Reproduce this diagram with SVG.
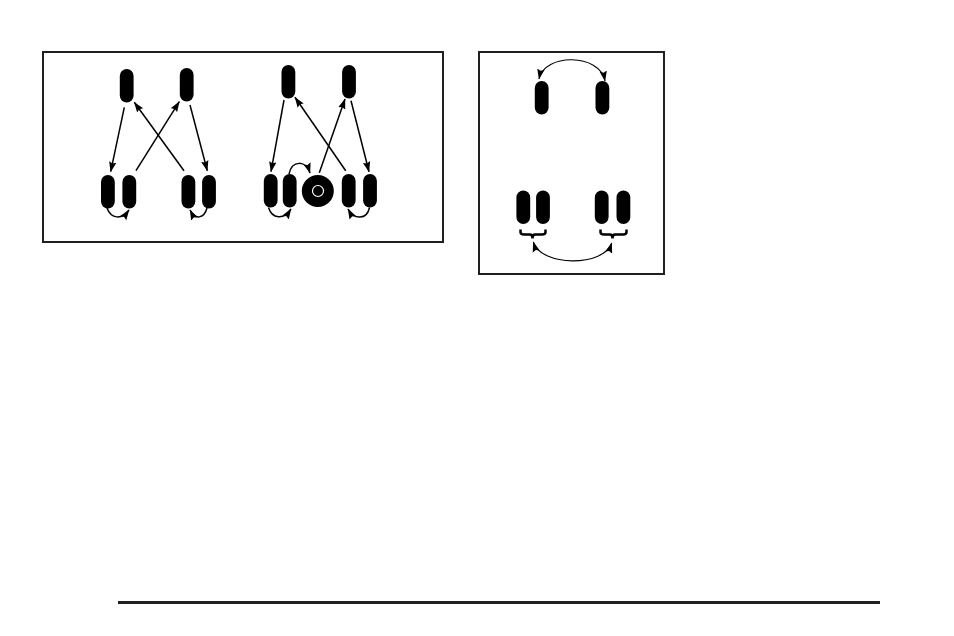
<svg xmlns="http://www.w3.org/2000/svg" width="954" height="636" viewBox="0 0 954 636">
<style>
.box{fill:#fff;stroke:#231f20;stroke-width:2}
.t{fill:#000}
.c{fill:none;stroke:#000;stroke-width:1.500}
.n{fill:none;stroke:#000;stroke-width:1.100}
.b{fill:none;stroke:#000;stroke-width:2.500}
</style>
<defs>
<marker id="a" markerUnits="userSpaceOnUse" markerWidth="12" markerHeight="9" refX="10" refY="4" orient="auto-start-reverse"><path d="M0 0.300L10.500 4L0 7.700L1.500 4Z" fill="#000"/></marker>
<rect id="tire" class="t" width="13.800" height="33.500" rx="6.900"/>
</defs>
<rect width="954" height="636" fill="#fff"/>
<rect id="panel-left" class="box" x="43" y="52" width="400" height="190"/>
<rect id="panel-right" class="box" x="479" y="52" width="185" height="222"/>
<g id="tire-1"><use href="#tire" x="119.800" y="69"/></g>
<g id="tire-2"><use href="#tire" x="179.800" y="68"/></g>
<g id="tire-3"><use href="#tire" x="101" y="175"/></g>
<g id="tire-4"><use href="#tire" x="122.400" y="175"/></g>
<g id="tire-5"><use href="#tire" x="181.500" y="175"/></g>
<g id="tire-6"><use href="#tire" x="202.100" y="175"/></g>
<g id="tire-7"><use href="#tire" x="281.500" y="65"/></g>
<g id="tire-8"><use href="#tire" x="342.100" y="65"/></g>
<g id="tire-9"><use href="#tire" x="263.800" y="174"/></g>
<g id="tire-10"><use href="#tire" x="282.800" y="174"/></g>
<g id="tire-11"><use href="#tire" x="341.800" y="174"/></g>
<g id="tire-12"><use href="#tire" x="363.100" y="174"/></g>
<g id="spare"><circle cx="317.800" cy="191" r="16" fill="#000"/><circle cx="318" cy="191" r="5.500" fill="none" stroke="#fff" stroke-width="1.200"/></g>
<g id="tire-13"><use href="#tire" x="534.800" y="81"/></g>
<g id="tire-14"><use href="#tire" x="595.500" y="81"/></g>
<g id="tire-15"><use href="#tire" x="516.400" y="190.500"/></g>
<g id="tire-16"><use href="#tire" x="536.100" y="190.500"/></g>
<g id="tire-17"><use href="#tire" x="594.800" y="190.500"/></g>
<g id="tire-18"><use href="#tire" x="616.500" y="190.500"/></g>
<g id="connectors">
<path class="c" marker-end="url(#a)" d="M124.300 107.300L110.700 171.700"/>
<path class="c" marker-end="url(#a)" d="M136 170.700L179.300 101.700"/>
<path class="c" marker-end="url(#a)" d="M184 170.700L134.300 102.300"/>
<path class="c" marker-end="url(#a)" d="M190 105L207.300 170.700"/>
<path class="c" marker-end="url(#a)" d="M107 208C111 219 122 220 129 210"/>
<path class="c" marker-end="url(#a)" d="M207 208C204 219 195 220 190 210"/>
<path class="c" marker-end="url(#a)" d="M284 100L271 171.700"/>
<path class="c" marker-end="url(#a)" d="M319.300 172.700L345 99"/>
<path class="c" marker-end="url(#a)" d="M345.700 170.700L295 97.300"/>
<path class="c" marker-end="url(#a)" d="M351 100.700L369 171.700"/>
<path class="c" marker-end="url(#a)" d="M268.500 207.500C272 219 284 220 291 209"/>
<path class="c" marker-end="url(#a)" d="M289 174C292 160 306 160 310 173"/>
<path class="c" marker-end="url(#a)" d="M369.500 207.500C367 220 354 220 348 209"/>
<path class="n" marker-start="url(#a)" marker-end="url(#a)" d="M539 79C544 53 600 53 605 81"/>
<path class="n" marker-start="url(#a)" marker-end="url(#a)" d="M533.300 242C541 267 604 267 611.700 243"/>
<path class="b" d="M520.500 229.500V232Q520.500 234.500 524 234.500H530Q532.500 234.500 532.500 238.500Q532.500 234.500 535 234.500H542Q545.500 234.500 545.500 232V229.500"/>
<path class="b" d="M600.500 229.500V232Q600.500 234.500 604 234.500H610Q612.500 234.500 612.500 238.500Q612.500 234.500 615 234.500H623Q626.500 234.500 626.500 232V229.500"/>
</g>
<rect id="rule" x="118" y="601" width="762" height="3" fill="#231f20"/>
</svg>
